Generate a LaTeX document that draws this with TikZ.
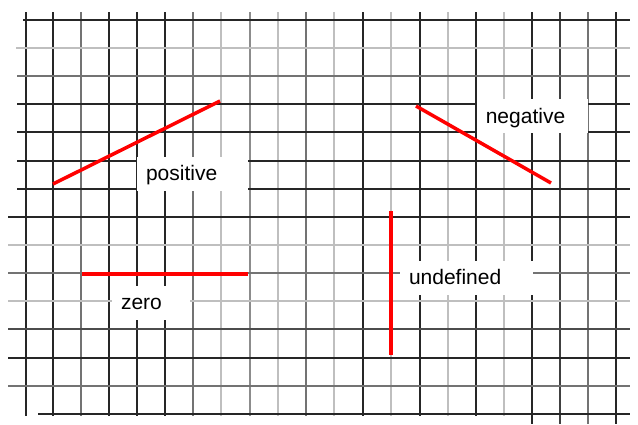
\documentclass[tikz,border=0pt]{standalone}
\usepackage{fontspec}
\setmainfont{Liberation Sans}
\tikzset{
  gridline/.style={line width=1.2pt},
  slopeline/.style={red, line width=3.5pt},
  slopelabel/.style={fill=white, inner xsep=9pt, inner ysep=0pt, minimum height=34pt, text height=16.4pt, text depth=2pt, align=left, font=\fontsize{21}{25}\selectfont}
}
\begin{document}
\begin{tikzpicture}[x=1pt, y=-1pt]
    \useasboundingbox (0,0) rectangle (638,424);

    \foreach \xx/\shade/\yend in {26/85/416, 53/85/416, 81/55/416, 109/85/416, 137/85/416, 165/85/416, 193/55/416, 221/25/416, 250/45/416, 278/25/416, 306/55/416, 334/25/416, 363/85/416, 391/25/416, 420/85/416, 448/25/416, 476/85/416, 504/25/416, 532/85/424, 560/75/424, 588/55/424, 616/85/424}
        \draw[gridline, black!\shade] (\xx,12) -- (\xx,\yend);
    \foreach \yy/\xs/\shade in {20/23/85, 48/16/25, 76/17/55, 104/17/85, 132/17/85, 161/17/85, 189/17/85, 217/8/85, 245/8/25, 273/8/55, 301/8/25, 329/8/70, 358/8/85, 386/8/55, 414/38/85}
        \draw[gridline, black!\shade] (\xs,\yy) -- (630,\yy);

    \coordinate (posstart) at (53,184);
    \coordinate (posend) at (220,101);
    \coordinate (negstart) at (416,106);
    \coordinate (negend) at (551,183);
    \coordinate (zerostart) at (82,274);
    \coordinate (zeroend) at (248,274);
    \coordinate (undefstart) at (391,211);
    \coordinate (undefend) at (391,355);

    \draw[slopeline] (posstart) -- (posend);
    \draw[slopeline] (negstart) -- (negend);
    \draw[slopeline] (zerostart) -- (zeroend);
    \draw[slopeline] (undefstart) -- (undefend);

    \node[slopelabel, text width=93pt] (poslabel) at (192.5,173.5) {positive};
    \node[slopelabel, text width=93pt] (neglabel) at (532.3,116) {negative};
    \node[slopelabel, text width=60pt] (zerolabel) at (151,302.5) {zero};
    \node[slopelabel, text width=115pt] (undeflabel) at (466.5,277.5) {undefined};
\end{tikzpicture}
\end{document}
